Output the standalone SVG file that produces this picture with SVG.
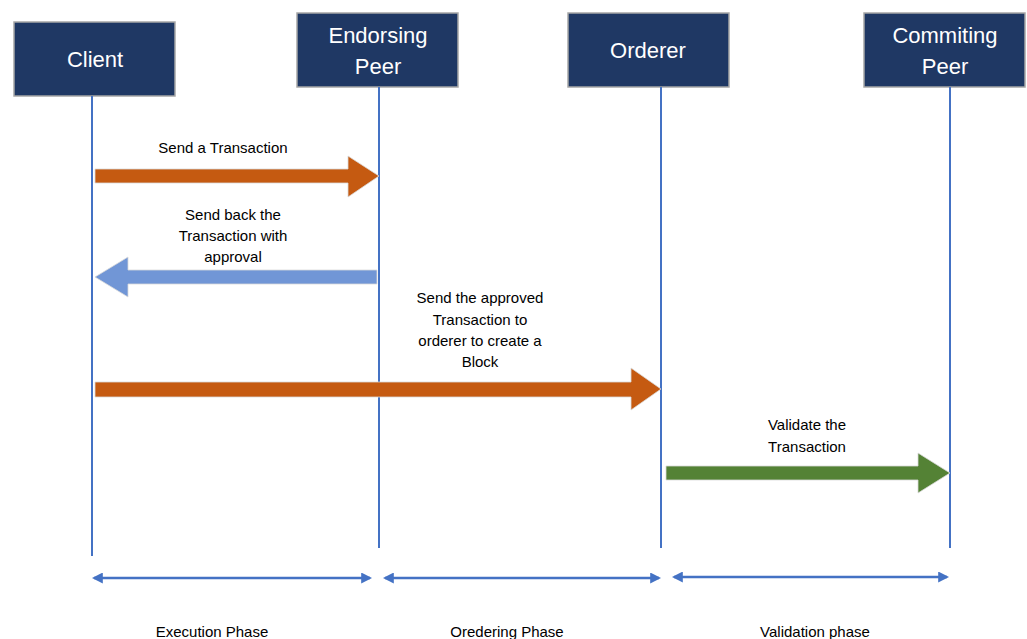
<svg xmlns="http://www.w3.org/2000/svg" width="1027" height="639" viewBox="0 0 1027 639">
<defs>
<style>
.box{fill:#1F3864;stroke:#A6A6A6;stroke-width:1.5}
.bt{font-family:"Liberation Sans","Open Sans",sans-serif;font-size:22px;fill:#ffffff;text-anchor:middle}
.life{stroke:#4472C4;stroke-width:2;fill:none}
.lbl{font-family:"Liberation Sans","Open Sans",sans-serif;font-size:15px;fill:#000;text-anchor:middle}
.ph{stroke:#4472C4;stroke-width:2.5;fill:none}
</style>
<marker id="ah" viewBox="0 0 10 10" refX="8" refY="5" markerWidth="4.4" markerHeight="4.4" orient="auto-start-reverse" markerUnits="strokeWidth">
<path d="M0,0 L10,5 L0,10 Z" fill="#4472C4"/>
</marker>
</defs>
<rect width="1027" height="639" fill="#ffffff"/>

<g id="client">
<rect class="box" x="14" y="22" width="161" height="74"/>
<text class="bt" x="95" y="67">Client</text>
</g>
<g id="endorsing-peer">
<rect class="box" x="297" y="13" width="161" height="74"/>
<text class="bt" x="378" y="43">Endorsing</text>
<text class="bt" x="378" y="74">Peer</text>
</g>
<g id="orderer">
<rect class="box" x="568" y="13" width="161" height="74"/>
<text class="bt" x="648" y="58">Orderer</text>
</g>
<g id="committing-peer">
<rect class="box" x="864" y="13" width="161" height="74"/>
<text class="bt" x="945" y="43">Commiting</text>
<text class="bt" x="945" y="74">Peer</text>
</g>

<g id="lifelines">
<line class="life" x1="92" y1="96" x2="92" y2="556"/>
<line class="life" x1="379" y1="87" x2="379" y2="548"/>
<line class="life" x1="661" y1="87" x2="661" y2="548"/>
<line class="life" x1="950" y1="87" x2="950" y2="548"/>
</g>

<g id="connectors">
<polygon points="95,169 348,169 348,156 379,176 348,197 348,183 95,183" fill="#C55A11" stroke="#D9D9D9" stroke-width="0.8"/>
<polygon points="377,270 128,270 128,257 95,277 128,297 128,284 377,284" fill="#7196D6" stroke="#D9D9D9" stroke-width="0.8"/>
<polygon points="95,382 631,382 631,368 661,389 631,410 631,397 95,397" fill="#C55A11" stroke="#D9D9D9" stroke-width="0.8"/>
<polygon points="666,466 918,466 918,453 950,473 918,493 918,480 666,480" fill="#548235" stroke="#D9D9D9" stroke-width="0.8"/>
<line class="ph" x1="94" y1="578" x2="370" y2="578" marker-start="url(#ah)" marker-end="url(#ah)"/>
<line class="ph" x1="385" y1="578" x2="659" y2="578" marker-start="url(#ah)" marker-end="url(#ah)"/>
<line class="ph" x1="674" y1="577" x2="947" y2="577" marker-start="url(#ah)" marker-end="url(#ah)"/>
</g>

<g id="labels">
<text class="lbl" x="223" y="153">Send a Transaction</text>
<text class="lbl" x="233" y="220">Send back the</text>
<text class="lbl" x="233" y="241">Transaction with</text>
<text class="lbl" x="233" y="262">approval</text>
<text class="lbl" x="480" y="303">Send the approved</text>
<text class="lbl" x="480" y="325">Transaction to</text>
<text class="lbl" x="480" y="346">orderer to create a</text>
<text class="lbl" x="480" y="367">Block</text>
<text class="lbl" x="807" y="430">Validate the</text>
<text class="lbl" x="807" y="452">Transaction</text>
<text class="lbl" x="212" y="637">Execution Phase</text>
<text class="lbl" x="507" y="637">Oredering Phase</text>
<text class="lbl" x="815" y="637">Validation phase</text>
</g>
</svg>
